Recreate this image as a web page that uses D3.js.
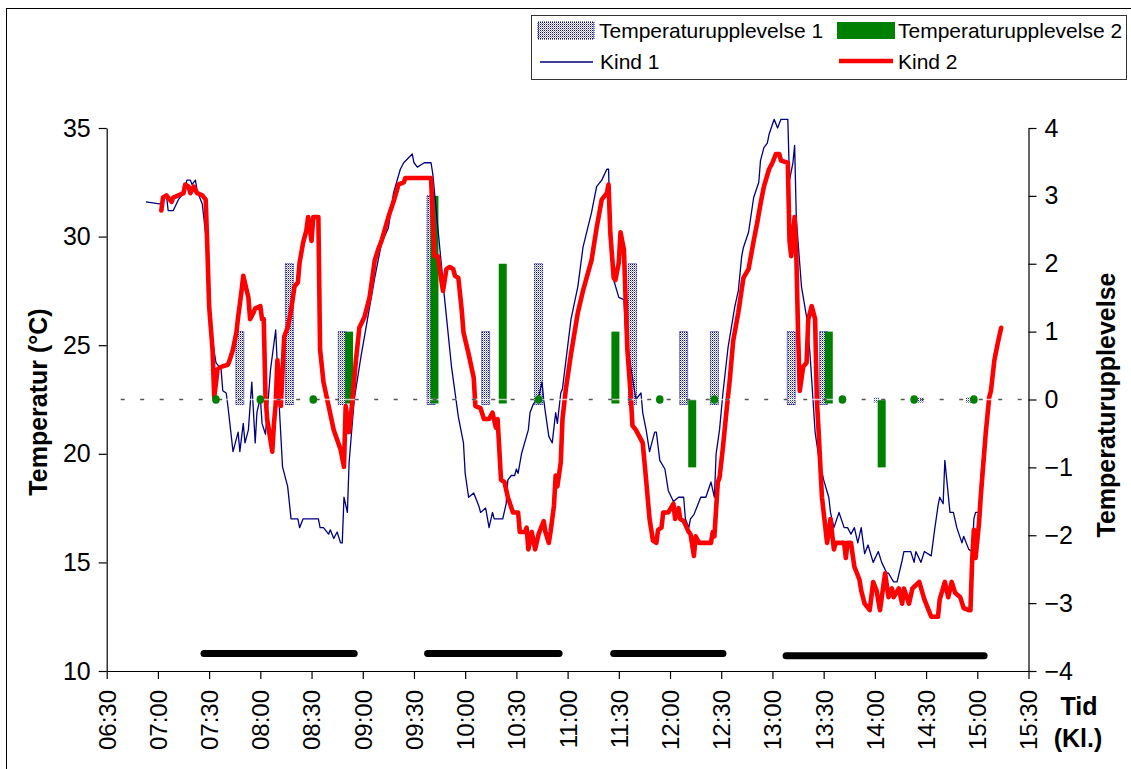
<!DOCTYPE html>
<html>
<head>
<meta charset="utf-8">
<script src="https://d3js.org/d3.v7.min.js"></script>
<style>
  body { margin: 0; background: #fff; }
  svg text { font-family: Arial, "Liberation Sans", sans-serif; fill: #000; }
</style>
</head>
<body>
<svg id="chart" width="1131" height="769"></svg>
<script>
// x axis tick labels (half hours)
var xTickLabels = ["06:30","07:00","07:30","08:00","08:30","09:00","09:30","10:00","10:30",
  "11:00","11:30","12:00","12:30","13:00","13:30","14:00","14:30","15:00","15:30"];
var leftTicks = [10, 15, 20, 25, 30, 35];
var rightTicks = [-4, -3, -2, -1, 0, 1, 2, 3, 4];

// Kind 1 (thin navy line)
var kind1Time = [
  "6:53","7:02","7:05","7:06","7:09","7:12","7:15","7:17","7:19","7:20",
  "7:22","7:23","7:25","7:26","7:29","7:31","7:34","7:37","7:38","7:40",
  "7:41","7:43","7:44","7:47","7:48","7:50","7:51","7:53","7:55","7:57",
  "7:58","8:00","8:01","8:03","8:06","8:09","8:11","8:13","8:16","8:18",
  "8:22","8:23","8:25","8:34","8:35","8:37","8:40","8:41","8:43","8:45",
  "8:47","8:48","8:49","8:51","8:52","8:55","8:59","9:03","9:07","9:11",
  "9:15","9:18","9:22","9:24","9:29","9:30","9:32","9:34","9:36","9:40",
  "9:41","9:44","9:48","9:52","9:56","9:59","10:00","10:02","10:05","10:08",
  "10:09","10:12","10:14","10:16","10:17","10:22","10:24","10:25","10:27","10:29",
  "10:30","10:31","10:33","10:37","10:38","10:40","10:43","10:45","10:46","10:47",
  "10:49","10:51","10:53","10:54","10:56","10:57","11:02","11:06","11:09","11:14",
  "11:17","11:20","11:23","11:24","11:25","11:27","11:30","11:33","11:34","11:37",
  "11:40","11:43","11:44","11:46","11:48","11:51","11:52","11:54","11:57","11:59",
  "12:02","12:05","12:08","12:09","12:11","12:12","12:14","12:16","12:18","12:21",
  "12:24","12:26","12:27","12:29","12:31","12:34","12:38","12:40","12:42","12:43",
  "12:46","12:49","12:52","12:53","12:55","12:57","12:58","13:01","13:03","13:05",
  "13:09","13:10","13:12","13:13","13:14","13:17","13:20","13:22","13:25","13:27",
  "13:30","13:33","13:34","13:36","13:39","13:42","13:44","13:46","13:48","13:50",
  "13:52","13:54","13:56","13:59","14:02","14:04","14:07","14:08","14:11","14:13",
  "14:16","14:17","14:21","14:23","14:24","14:27","14:29","14:33","14:35","14:37",
  "14:38","14:40","14:41","14:44","14:46","14:48","14:51","14:52","14:55","14:57",
  "14:58","14:59","15:01","15:02","15:04","15:07","15:10","15:11"];
var kind1Temp = [
  31.6,31.5,31.9,31.2,31.2,31.7,32.0,32.6,32.6,32.4,
  32.6,32.1,31.7,31.5,29.4,25.7,24.2,23.9,22.9,22.8,
  22.2,20.8,20.1,21.0,20.1,21.4,20.5,21.1,23.3,20.5,
  21.9,22.6,21.4,20.9,23.9,25.7,22.3,19.4,18.5,17.0,
  17.0,16.6,17.0,17.0,16.6,16.6,16.3,16.5,16.1,16.4,
  15.9,15.9,18.0,17.3,19.6,22.5,24.5,26.3,28.1,29.7,
  30.4,32.0,33.1,33.4,33.8,33.4,33.2,33.3,33.4,33.4,
  32.9,30.4,27.1,24.0,21.7,20.5,19.1,18.0,18.2,17.6,
  17.3,17.5,16.6,17.3,17.0,17.0,17.7,18.8,19.0,19.0,
  19.3,19.1,20.0,21.1,21.9,22.3,22.6,23.3,22.5,21.9,
  20.8,20.5,21.9,21.4,22.8,23.0,26.2,27.7,29.5,31.1,
  32.3,32.6,33.1,33.1,30.2,28.0,27.2,27.1,25.6,24.0,
  22.5,22.8,21.9,21.1,20.1,21.0,21.0,19.7,19.3,18.3,
  17.8,18.0,18.0,17.0,16.6,17.0,17.2,17.6,18.0,18.0,
  18.7,18.0,20.0,21.1,22.8,24.9,26.8,27.5,29.1,29.5,
  30.2,31.8,32.5,33.5,34.1,34.3,34.7,35.4,35.0,35.4,
  35.4,32.6,33.4,34.2,30.8,27.7,26.3,24.6,21.0,19.9,
  18.8,18.0,17.3,16.6,17.3,16.6,16.6,16.3,16.6,15.9,
  16.6,15.4,15.8,15.0,15.5,15.0,14.5,14.5,14.1,14.1,
  15.1,15.5,15.5,15.0,15.5,15.0,15.5,15.3,16.5,17.6,
  18.0,17.7,19.7,17.3,17.3,16.6,15.9,16.2,15.6,15.5,
  17.0,17.3,17.3,18.8,20.6,22.5,24.6,24.9];

// Kind 2 (thick red line)
var kind2Time = [
  "7:02","7:03","7:05","7:08","7:09","7:12","7:15","7:16","7:18","7:19",
  "7:21","7:23","7:26","7:28","7:29","7:30","7:32","7:33","7:35","7:37",
  "7:41","7:42","7:44","7:46","7:47","7:49","7:50","7:53","7:54","7:56",
  "7:57","8:00","8:01","8:02","8:03","8:04","8:07","8:08","8:09","8:10",
  "8:12","8:14","8:16","8:18","8:20","8:22","8:23","8:25","8:27","8:28",
  "8:30","8:31","8:34","8:35","8:37","8:40","8:43","8:47","8:49","8:50",
  "8:52","8:54","8:56","8:58","9:01","9:04","9:07","9:09","9:11","9:15",
  "9:18","9:21","9:24","9:25","9:40","9:42","9:44","9:46","9:47","9:49",
  "9:51","9:53","9:54","9:56","9:58","9:59","10:02","10:05","10:06","10:09",
  "10:11","10:14","10:16","10:18","10:19","10:21","10:23","10:25","10:28","10:31",
  "10:32","10:35","10:36","10:37","10:39","10:41","10:43","10:46","10:47","10:49",
  "10:50","10:52","10:53","10:54","10:56","10:57","10:59","11:02","11:06","11:09",
  "11:14","11:17","11:20","11:23","11:24","11:25","11:27","11:28","11:30","11:31",
  "11:33","11:34","11:35","11:37","11:38","11:40","11:42","11:44","11:46","11:48",
  "11:50","11:52","11:53","11:55","11:56","11:59","12:02","12:03","12:05","12:06",
  "12:08","12:11","12:12","12:14","12:15","12:17","12:24","12:25","12:26","12:28",
  "12:29","12:31","12:33","12:35","12:37","12:40","12:43","12:46","12:49","12:51",
  "12:53","12:55","12:58","13:00","13:02","13:04","13:05","13:09","13:10","13:11",
  "13:13","13:14","13:15","13:16","13:18","13:20","13:21","13:23","13:25","13:26",
  "13:27","13:29","13:32","13:34","13:36","13:37","13:42","13:43","13:44","13:46",
  "13:48","13:51","13:52","13:54","13:57","13:59","14:01","14:03","14:06","14:08",
  "14:10","14:11","14:14","14:16","14:17","14:20","14:22","14:26","14:29","14:33",
  "14:37","14:38","14:41","14:43","14:45","14:47","14:50","14:52","14:55","14:56",
  "14:57","14:58","14:59","15:01","15:02","15:05","15:07","15:08","15:10","15:12",
  "15:14"];
var kind2Temp = [
  31.2,31.8,31.9,31.6,31.8,31.9,32.0,32.4,32.3,32.0,
  32.3,32.0,31.9,31.7,29.4,26.8,24.8,22.6,23.9,24.0,
  24.1,24.3,24.8,25.6,26.3,27.5,28.2,27.2,26.2,26.5,
  26.7,26.8,26.2,26.2,22.7,21.6,20.1,21.4,22.3,24.3,
  22.2,25.4,25.8,26.6,27.7,27.9,28.8,29.7,30.3,30.9,
  29.8,30.9,30.9,24.8,23.3,22.2,21.1,20.2,19.4,22.2,
  21.0,22.5,24.3,25.8,26.3,27.2,28.9,29.4,29.8,30.9,
  31.6,32.4,32.5,32.7,32.7,29.1,29.1,28.0,27.5,28.5,
  28.6,28.5,28.2,28.1,26.6,25.6,24.6,23.5,22.2,22.1,
  21.6,21.6,21.9,21.2,21.6,18.8,18.7,18.0,17.3,17.3,
  16.4,16.4,16.6,15.6,16.4,15.6,16.3,16.9,16.4,15.9,
  16.4,17.6,19.0,18.5,19.6,21.6,23.0,24.6,26.5,27.5,
  28.9,30.4,31.7,32.0,32.4,30.2,28.1,28.0,28.8,30.2,
  29.4,27.1,24.8,22.7,21.3,21.1,20.8,20.5,18.8,17.0,
  16.0,15.9,16.5,16.6,17.3,17.3,17.7,17.0,17.5,17.0,
  16.9,16.4,16.3,15.3,16.2,15.9,15.9,16.4,16.2,18.7,
  18.9,20.3,21.9,23.4,25.2,26.5,28.1,28.5,29.8,30.6,
  31.5,32.3,33.1,33.4,33.8,33.8,33.5,33.4,29.8,29.1,
  30.9,29.1,25.6,22.9,24.0,24.2,26.2,26.8,26.2,22.5,
  21.1,18.0,15.9,17.0,15.6,15.9,15.9,15.2,15.9,15.9,
  14.8,14.2,13.7,13.1,12.8,14.1,13.7,12.8,14.5,13.4,
  13.8,13.4,13.8,13.1,13.8,13.1,13.8,14.1,13.3,12.5,
  12.5,13.3,14.1,13.4,14.1,13.6,13.4,12.9,12.8,12.8,
  15.1,16.5,15.2,16.8,18.0,21.0,22.6,22.9,24.3,25.1,
  25.8];

// Temperaturupplevelse (right axis)
var upplev1Time = ["7:48","8:17","8:48","9:40","10:12","10:43","11:38","12:08","12:26","13:11","13:30","14:01","14:27","14:55"];
var upplev1Value = [1, 2, 1, 3, 1, 2, 2, 1, 1, 1, 1, 0, 0, 0];
var upplev2Time = ["7:34","8:00","8:31","8:52","9:42","10:22","10:43","11:28","11:54","12:13","12:26","13:33","13:41","14:04","14:23","14:58"];
var upplev2Value = [0, 0, 0, 1, 3, 2, 0, 1, 0, -1, 0, 1, 0, -1, 0, 0];

// black period bars near the bottom
var periodStart = ["7:27", "9:38", "11:27", "13:08"];
var periodEnd = ["8:55", "10:55", "12:31", "15:04"];
var periodLevel = [10.8, 10.8, 10.8, 10.7];

var width = 1131, height = 769;
var plotLeft = 106.7, plotRight = 1028.5, plotTop = 128, plotBottom = 671;

function toMin(s) { var p = s.split(":"); return (+p[0]) * 60 + (+p[1]); }

var x = d3.scaleLinear()
  .domain([toMin(xTickLabels[0]), toMin(xTickLabels[xTickLabels.length - 1])])
  .range([plotLeft, plotRight]);
var yT = d3.scaleLinear().domain([10, 35]).range([plotBottom, plotTop]);
var yU = d3.scaleLinear().domain([-4, 4]).range([plotBottom, plotTop]);

var svg = d3.select("#chart");
svg.append("rect").attr("width", width).attr("height", height).attr("fill", "#fff");
// outer frame (runs off the right/bottom edge)
svg.append("rect").attr("x", 6.5).attr("y", 8.5).attr("width", 1300).attr("height", 900)
  .attr("fill", "none").attr("stroke", "#000").attr("stroke-width", 1);

// dotted fill for Temperaturupplevelse 1
var defs = svg.append("defs");
var pat = defs.append("pattern").attr("id", "dots")
  .attr("width", 2).attr("height", 2).attr("patternUnits", "userSpaceOnUse");
pat.append("rect").attr("width", 2).attr("height", 2).attr("fill", "#ffffff");
pat.append("rect").attr("width", 1).attr("height", 1).attr("fill", "#10108a");
pat.append("rect").attr("x", 1).attr("y", 1).attr("width", 1).attr("height", 1).attr("fill", "#9a9ad8");

var barW = 8;

// series 1 bars
var u1 = upplev1Time.map(function(t, i) { return {t: toMin(t), v: upplev1Value[i]}; });
svg.append("g").selectAll("rect").data(u1).enter().append("rect")
  .attr("x", function(d) { return x(d.t) - (d.v === 0 ? 3 : barW / 2); })
  .attr("y", function(d) { return d.v > 0 ? yU(d.v) : yU(0) - 2; })
  .attr("width", function(d) { return d.v === 0 ? 6 : barW; })
  .attr("height", function(d) { return d.v > 0 ? yU(0) - yU(d.v) + 5 : 5; })
  .attr("fill", "url(#dots)")
  .attr("stroke", function(d) { return d.v === 0 ? "none" : "#000080"; })
  .attr("stroke-width", 1).attr("stroke-dasharray", "1,1");

// series 2 bars (non-zero)
var u2 = upplev2Time.map(function(t, i) { return {t: toMin(t), v: upplev2Value[i]}; });
svg.append("g").selectAll("rect").data(u2.filter(function(d) { return d.v !== 0; })).enter().append("rect")
  .attr("x", function(d) { return x(d.t) - barW / 2; })
  .attr("y", function(d) { return d.v > 0 ? yU(d.v) : yU(0); })
  .attr("width", barW)
  .attr("height", function(d) { return Math.abs(yU(0) - yU(d.v)) + (d.v > 0 ? 4 : 0); })
  .attr("fill", "#008000");

// lines
function lineFor(times, temps) {
  var pts = times.map(function(t, i) { return [toMin(t), temps[i]]; });
  return d3.line().x(function(d) { return x(d[0]); }).y(function(d) { return yT(d[1]); })(pts);
}
svg.append("path").attr("d", lineFor(kind1Time, kind1Temp))
  .attr("fill", "none").attr("stroke", "#000080").attr("stroke-width", 1.3)
  .attr("stroke-linejoin", "round");
svg.append("path").attr("d", lineFor(kind2Time, kind2Temp))
  .attr("fill", "none").attr("stroke", "#ff0000").attr("stroke-width", 4.6)
  .attr("stroke-linejoin", "round").attr("stroke-linecap", "round");

// zero line of right axis
svg.append("line").attr("x1", plotLeft).attr("x2", plotRight).attr("y1", yU(0)).attr("y2", yU(0))
  .attr("stroke", "#fff").attr("stroke-opacity", 0.7).attr("stroke-width", 1.5);
svg.append("line").attr("x1", plotLeft).attr("x2", plotRight).attr("y1", yU(0)).attr("y2", yU(0))
  .attr("stroke", "#555").attr("stroke-width", 1.4).attr("stroke-dasharray", "4,15.5")
  .attr("stroke-dashoffset", -14);

// series 2 zero values shown as small green dots
svg.append("g").selectAll("ellipse").data(u2.filter(function(d) { return d.v === 0; })).enter().append("ellipse")
  .attr("cx", function(d) { return x(d.t); })
  .attr("cy", yU(0))
  .attr("rx", 3.8).attr("ry", 4.3)
  .attr("fill", "#008000");

// black period bars
svg.append("g").selectAll("line").data(periodStart).enter().append("line")
  .attr("x1", function(d) { return x(toMin(d)); })
  .attr("x2", function(d, i) { return x(toMin(periodEnd[i])); })
  .attr("y1", function(d, i) { return yT(periodLevel[i]); })
  .attr("y2", function(d, i) { return yT(periodLevel[i]); })
  .attr("stroke", "#000").attr("stroke-width", 7).attr("stroke-linecap", "round");

// axes
var leftAxis = d3.axisLeft(yT).tickValues(leftTicks).tickSize(8).tickSizeOuter(0).tickPadding(8);
var gl = svg.append("g").attr("transform", "translate(" + plotLeft + ",0)").call(leftAxis);
var rightAxis = d3.axisRight(yU).tickValues(rightTicks).tickSize(8).tickSizeOuter(0).tickPadding(8);
var gr = svg.append("g").attr("transform", "translate(" + plotRight + ",0)").call(rightAxis);
var bottomAxis = d3.axisBottom(x).tickValues(xTickLabels.map(toMin)).tickSize(8).tickSizeOuter(0)
  .tickFormat(function(d, i) { return xTickLabels[i]; });
var gb = svg.append("g").attr("transform", "translate(0," + plotBottom + ")").call(bottomAxis);

[gl, gr, gb].forEach(function(g) {
  g.selectAll("path.domain").attr("stroke", "#000").attr("stroke-width", 1.2);
  g.selectAll(".tick line").attr("stroke", "#000").attr("stroke-width", 1.2);
  g.selectAll("text").style("font-size", "25px").style("font-family", "Arial, 'Liberation Sans', sans-serif");
});
gb.selectAll(".tick text")
  .attr("transform", "rotate(-90)")
  .attr("x", -19).attr("y", 0).attr("dy", "0.35em")
  .attr("text-anchor", "end")
  .style("font-size", "24px");

// axis titles
svg.append("text").attr("transform", "translate(38,402) rotate(-90)")
  .attr("text-anchor", "middle").attr("dy", "0.35em")
  .style("font-size", "25px").style("font-weight", "bold").text("Temperatur (°C)");
svg.append("text").attr("transform", "translate(1106,405) rotate(-90)")
  .attr("text-anchor", "middle").attr("dy", "0.35em")
  .style("font-size", "25px").style("font-weight", "bold").text("Temperaturupplevelse");
svg.append("text").attr("x", 1079).attr("y", 715).attr("text-anchor", "middle")
  .style("font-size", "25px").style("font-weight", "bold").text("Tid");
svg.append("text").attr("x", 1078).attr("y", 747).attr("text-anchor", "middle")
  .style("font-size", "25px").style("font-weight", "bold").text("(Kl.)");

// legend
var lg = svg.append("g");
lg.append("rect").attr("x", 531.5).attr("y", 15.5).attr("width", 595).attr("height", 64)
  .attr("fill", "#fff").attr("stroke", "#333").attr("stroke-width", 1);
lg.append("rect").attr("x", 538).attr("y", 22).attr("width", 56).attr("height", 17)
  .attr("fill", "url(#dots)").attr("stroke", "#000080").attr("stroke-dasharray", "1,1");
lg.append("rect").attr("x", 837).attr("y", 22).attr("width", 58).attr("height", 17).attr("fill", "#008000");
lg.append("line").attr("x1", 540).attr("x2", 593).attr("y1", 62).attr("y2", 62)
  .attr("stroke", "#000080").attr("stroke-width", 1.3);
lg.append("line").attr("x1", 839).attr("x2", 893).attr("y1", 61).attr("y2", 61)
  .attr("stroke", "#ff0000").attr("stroke-width", 4.6);
var legendText = [["Temperaturupplevelse 1", 599, 31], ["Temperaturupplevelse 2", 898, 31],
                  ["Kind 1", 600, 62], ["Kind 2", 898, 62]];
lg.selectAll("text.lt").data(legendText).enter().append("text")
  .attr("x", function(d) { return d[1]; }).attr("y", function(d) { return d[2]; })
  .attr("dy", "0.35em").style("font-size", "21px")
  .text(function(d) { return d[0]; });
</script>
</body>
</html>
